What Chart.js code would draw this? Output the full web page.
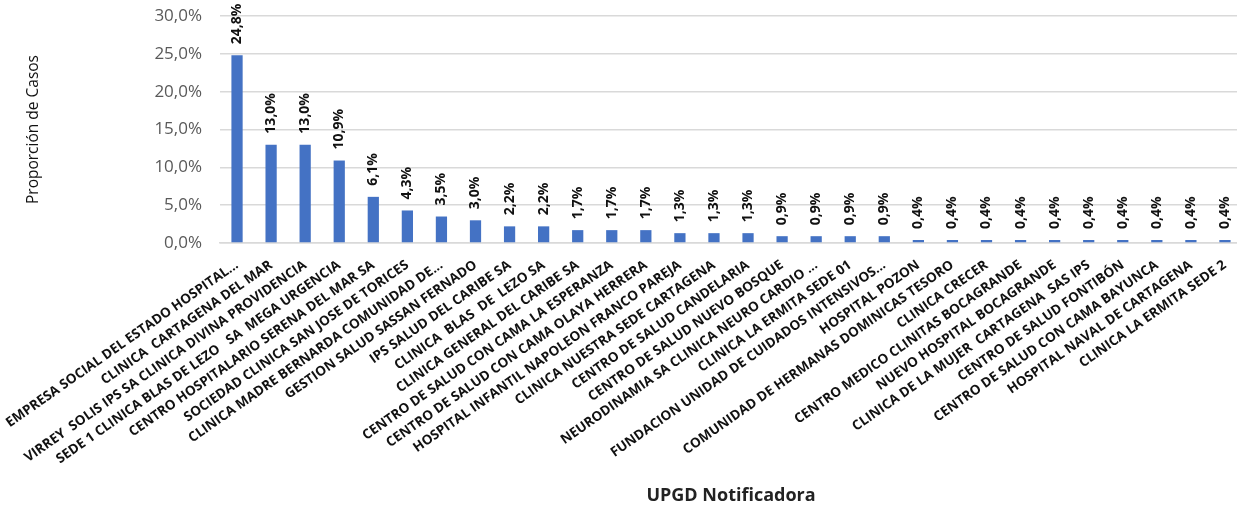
<!DOCTYPE html>
<html>
<head>
<meta charset="utf-8">
<script src="https://cdn.jsdelivr.net/npm/chart.js@4"></script>
<style>
html,body{margin:0;padding:0;background:#fff;overflow:hidden;}
#wrap{width:1242px;height:507px;position:relative;}
</style>
</head>
<body>
<div id="wrap"><canvas id="c"></canvas></div>
<script>
const categories = [
  "EMPRESA SOCIAL DEL ESTADO HOSPITAL...",
  "CLINICA  CARTAGENA DEL MAR",
  "VIRREY  SOLIS IPS SA CLINICA DIVINA PROVIDENCIA",
  "SEDE 1 CLINICA BLAS DE LEZO   SA  MEGA URGENCIA",
  "CENTRO HOSPITALARIO SERENA DEL MAR SA",
  "SOCIEDAD CLINICA SAN JOSE DE TORICES",
  "CLINICA MADRE BERNARDA COMUNIDAD DE...",
  "GESTION SALUD SASSAN FERNADO",
  "IPS SALUD DEL CARIBE SA",
  "CLINICA  BLAS  DE  LEZO SA",
  "CLINICA GENERAL DEL CARIBE SA",
  "CENTRO DE SALUD CON CAMA LA ESPERANZA",
  "CENTRO DE SALUD CON CAMA OLAYA HERRERA",
  "HOSPITAL INFANTIL NAPOLEON FRANCO PAREJA",
  "CLINICA NUESTRA SEDE CARTAGENA",
  "CENTRO DE SALUD CANDELARIA",
  "CENTRO DE SALUD NUEVO BOSQUE",
  "NEURODINAMIA SA CLINICA NEURO CARDIO ...",
  "CLINICA LA ERMITA SEDE 01",
  "FUNDACION UNIDAD DE CUIDADOS INTENSIVOS...",
  "HOSPITAL POZON",
  "COMUNIDAD DE HERMANAS DOMINICAS TESORO",
  "CLINICA CRECER",
  "CENTRO MEDICO CLINITAS BOCAGRANDE",
  "NUEVO HOSPITAL BOCAGRANDE",
  "CLINICA DE LA MUJER  CARTAGENA  SAS IPS",
  "CENTRO DE SALUD FONTIBÓN",
  "CENTRO DE SALUD CON CAMA BAYUNCA",
  "HOSPITAL NAVAL DE CARTAGENA",
  "CLINICA LA ERMITA SEDE 2"
];
const proporcion = [24.8, 13.0, 13.0, 10.9, 6.1, 4.3, 3.5, 3.0, 2.2, 2.2, 1.7, 1.7, 1.7, 1.3, 1.3, 1.3, 0.9, 0.9, 0.9, 0.9, 0.4, 0.4, 0.4, 0.4, 0.4, 0.4, 0.4, 0.4, 0.4, 0.4];
const yTicks = [0, 5, 10, 15, 20, 25, 30];
const yTitle = "Proporción de Casos";
const xTitle = "UPGD Notificadora";

function fmt(v){ return v.toFixed(1).replace('.', ',') + '%'; }

const valueLabels = {
  id: 'valueLabels',
  afterDatasetsDraw(chart) {
    const ctx = chart.ctx;
    const meta = chart.getDatasetMeta(0);
    ctx.save();
    ctx.font = 'bold 14px "Open Sans"';
    ctx.fillStyle = '#111';
    ctx.textAlign = 'left';
    ctx.textBaseline = 'middle';
    meta.data.forEach((bar, i) => {
      ctx.save();
      ctx.translate(bar.x, bar.y - 11);
      ctx.rotate(-Math.PI / 2);
      ctx.fillText(fmt(proporcion[i]), 0, 0);
      ctx.restore();
    });
    ctx.restore();
  }
};

new Chart(document.getElementById('c'), {
  type: 'bar',
  data: {
    labels: categories,
    datasets: [{
      data: proporcion,
      backgroundColor: '#4472C4',
      borderWidth: 0,
      barPercentage: 0.33,
      categoryPercentage: 1.0
    }]
  },
  options: {
    responsive: true,
    maintainAspectRatio: false,
    animation: false,
    layout: { padding: { top: 16, left: 0, right: 0, bottom: 0 } },
    plugins: { legend: { display: false }, tooltip: { enabled: false } },
    scales: {
      x: {
        grid: { display: false, drawTicks: false },
        border: { display: true, color: '#d9d9d9', width: 1.5 },
        ticks: {
          autoSkip: false,
          minRotation: 35,
          maxRotation: 35,
          padding: 14,
          color: '#111',
          font: { family: '"Open Sans"', size: 13.5, weight: 'bold' }
        },
        title: {
          display: true,
          text: xTitle,
          color: '#222',
          font: { family: '"Open Sans"', size: 18, weight: 'bold' },
          padding: { top: 0, bottom: 0 }
        },
        afterFit(scale) {
          scale.height = 264;
          scale.paddingLeft = 0;
          scale.paddingRight = 0;
        }
      },
      y: {
        min: 0,
        max: 30,
        afterBuildTicks(scale) {
          scale.ticks = yTicks.map(v => ({ value: v }));
        },
        grid: { color: '#d9d9d9', lineWidth: 1.5, drawTicks: false },
        border: { display: false },
        ticks: {
          padding: 18,
          color: '#595959',
          font: { family: '"Open Sans"', size: 17 },
          callback: v => fmt(v)
        },
        title: {
          display: true,
          text: yTitle,
          color: '#111',
          font: { family: '"Open Sans"', size: 15.5 },
          padding: { top: 24, bottom: 0 }
        },
        afterFit(scale) {
          scale.width = 220;
          scale.paddingTop = 0;
          scale.paddingBottom = 0;
        }
      }
    }
  },
  plugins: [valueLabels]
});
</script>
</body>
</html>
